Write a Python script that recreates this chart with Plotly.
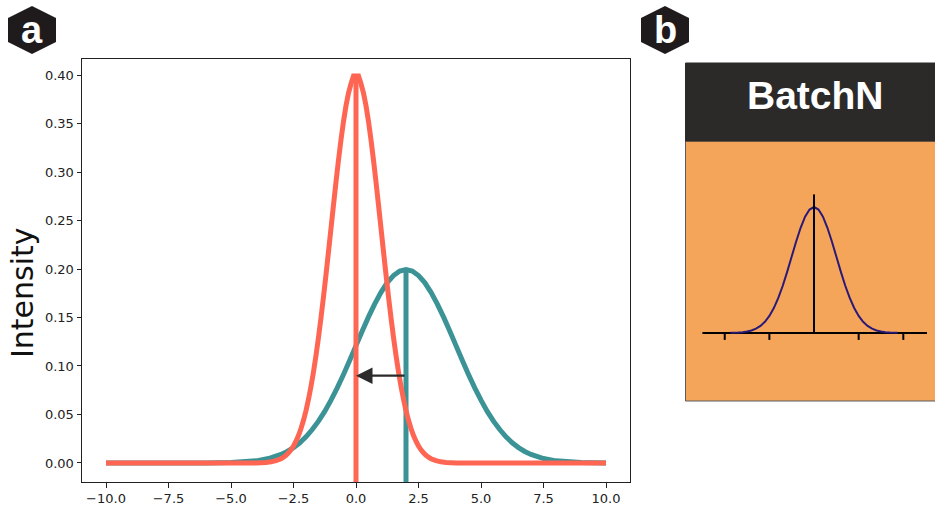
import plotly.graph_objects as go

W, H = 935, 508

# Panel a: values
teal_x = [-10, -6, -5, -4, -3.5, -3, -2.75, -2.5, -2.25, -2, -1.75, -1.5, -1.25, -1, -0.75, -0.5, -0.25, 0, 0.25, 0.5, 0.75, 1, 1.25, 1.5, 1.75, 2, 2.25, 2.5, 2.75, 3, 3.25, 3.5, 3.75, 4, 4.25, 4.5, 4.75, 5, 5.25, 5.5, 5.75, 6, 6.25, 6.5, 6.75, 7, 7.5, 8, 9, 10]
teal_y = [0, 0.0001, 0.0004, 0.0022, 0.0046, 0.0088, 0.0119, 0.0159, 0.0208, 0.027, 0.0345, 0.0431, 0.0532, 0.0648, 0.0774, 0.0913, 0.1059, 0.121, 0.1361, 0.1506, 0.1641, 0.176, 0.186, 0.1933, 0.1979, 0.1995, 0.1979, 0.1933, 0.186, 0.176, 0.1641, 0.1506, 0.1361, 0.121, 0.1059, 0.0913, 0.0774, 0.0648, 0.0532, 0.0431, 0.0345, 0.027, 0.0208, 0.0159, 0.0119, 0.0088, 0.0046, 0.0022, 0.0004, 0]
red_x = [-10, -4, -3.6, -3.4, -3.2, -3, -2.9, -2.8, -2.7, -2.6, -2.5, -2.4, -2.3, -2.2, -2.1, -2, -1.9, -1.8, -1.7, -1.6, -1.5, -1.4, -1.3, -1.2, -1.1, -1, -0.9, -0.8, -0.7, -0.6, -0.5, -0.4, -0.3, -0.2, -0.1, 0.1, 0.2, 0.3, 0.4, 0.5, 0.6, 0.7, 0.8, 0.9, 1, 1.1, 1.2, 1.3, 1.4, 1.5, 1.6, 1.7, 1.8, 1.9, 2, 2.1, 2.2, 2.3, 2.4, 2.5, 2.6, 2.7, 2.8, 2.9, 3, 3.2, 3.4, 3.6, 4, 10]
red_y = [0, 0.0001, 0.0006, 0.0012, 0.0024, 0.0044, 0.006, 0.0079, 0.0104, 0.0136, 0.0175, 0.0224, 0.0283, 0.0355, 0.044, 0.054, 0.0656, 0.079, 0.094, 0.1109, 0.1295, 0.1497, 0.1714, 0.1942, 0.2179, 0.242, 0.2661, 0.2897, 0.3123, 0.3332, 0.3521, 0.3683, 0.3814, 0.391, 0.399, 0.399, 0.391, 0.3814, 0.3683, 0.3521, 0.3332, 0.3123, 0.2897, 0.2661, 0.242, 0.2179, 0.1942, 0.1714, 0.1497, 0.1295, 0.1109, 0.094, 0.079, 0.0656, 0.054, 0.044, 0.0355, 0.0283, 0.0224, 0.0175, 0.0136, 0.0104, 0.0079, 0.006, 0.0044, 0.0024, 0.0012, 0.0006, 0.0001, 0]
x_ticks = [-10, -7.5, -5, -2.5, 0, 2.5, 5, 7.5, 10]
x_labels = ["−10.0", "−7.5", "−5.0", "−2.5", "0.0", "2.5", "5.0", "7.5", "10.0"]
y_ticks = [0, 0.05, 0.1, 0.15, 0.2, 0.25, 0.3, 0.35, 0.4]
y_labels = ["0.00", "0.05", "0.10", "0.15", "0.20", "0.25", "0.30", "0.35", "0.40"]
x_range = [-10.96, 10.96]
y_range = [-0.0196, 0.4165]
teal_mean, teal_peak = 2, 0.2
red_mean, red_peak = 0, 0.4
arrow_y = 0.09

# Panel b: curve in tick units, heights relative to the peak
b_x = [-1.87, -1.7, -1.6, -1.5, -1.4, -1.3, -1.2, -1.1, -1, -0.9, -0.8, -0.7, -0.6, -0.5, -0.4, -0.3, -0.2, -0.1, 0, 0.1, 0.2, 0.3, 0.4, 0.5, 0.6, 0.7, 0.8, 0.9, 1, 1.1, 1.2, 1.3, 1.4, 1.5, 1.6, 1.7, 1.87]
b_y = [0.001, 0.003, 0.006, 0.011, 0.02, 0.034, 0.056, 0.089, 0.135, 0.198, 0.278, 0.375, 0.487, 0.607, 0.726, 0.835, 0.923, 0.98, 1, 0.98, 0.923, 0.835, 0.726, 0.607, 0.487, 0.375, 0.278, 0.198, 0.135, 0.089, 0.056, 0.034, 0.02, 0.011, 0.006, 0.003, 0.001]
b_ticks = [-2, -1, 1, 2]
b_axis_x = [-2.5, 2.53]
b_top = 1.1
b_x_range = [-2.89, 2.71]
b_y_range = [-0.54, 1.524]

TEAL, RED, DARK = "#3B9396", "#FF6553", "#2B2A29"


def px(v):
    return v / W


def py(v):
    return 1 - v / H


def hexagon(cx, cy):
    pts = [(cx, cy - 24), (cx + 24, cy - 12), (cx + 24, cy + 12), (cx, cy + 24), (cx - 24, cy + 12), (cx - 24, cy - 12)]
    d = "M" + "L".join(f"{px(a):.5f},{py(b):.5f}" for a, b in pts) + "Z"
    return dict(type="path", xref="paper", yref="paper", path=d, fillcolor="#1F1B1D", line_width=0, layer="below")


def rect(x0, y0, x1, y1, fill, line):
    return dict(type="rect", xref="paper", yref="paper", x0=px(x0), x1=px(x1), y0=py(y1), y1=py(y0),
                fillcolor=fill, line=dict(color=line, width=1), layer="below")


def curve(color, width):
    return dict(color=color, width=width, simplify=False)


fig = go.Figure()
fig.add_trace(go.Scatter(x=teal_x, y=teal_y, mode="lines", line=curve(TEAL, 5), hoverinfo="skip"))
fig.add_trace(go.Scatter(x=[teal_mean, teal_mean], y=[y_range[0], teal_peak], mode="lines", line=curve(TEAL, 5), hoverinfo="skip"))
fig.add_trace(go.Scatter(x=red_x, y=red_y, mode="lines", line=curve(RED, 5), hoverinfo="skip"))
fig.add_trace(go.Scatter(x=[red_mean, red_mean], y=[y_range[0], red_peak], mode="lines", line=curve(RED, 5), hoverinfo="skip"))

fig.add_trace(go.Scatter(x=b_axis_x, y=[0, 0], xaxis="x2", yaxis="y2", mode="lines", line=curve("black", 2), hoverinfo="skip"))
for t in b_ticks:
    fig.add_trace(go.Scatter(x=[t, t], y=[0, -0.055], xaxis="x2", yaxis="y2", mode="lines", line=curve("black", 2), hoverinfo="skip"))
fig.add_trace(go.Scatter(x=b_x, y=b_y, xaxis="x2", yaxis="y2", mode="lines", line=curve("#2A1A78", 2), hoverinfo="skip"))
fig.add_trace(go.Scatter(x=[0, 0], y=[0, b_top], xaxis="x2", yaxis="y2", mode="lines", line=curve("black", 2), hoverinfo="skip"))

axis_font = dict(family="DejaVu Sans", size=13, color="#222222")
fig.update_layout(
    width=W, height=H, autosize=False, showlegend=False,
    margin=dict(l=0, r=0, t=0, b=0),
    paper_bgcolor="white", plot_bgcolor="white",
    xaxis=dict(domain=[px(82), px(630)], range=x_range, tickvals=x_ticks, ticktext=x_labels,
               ticks="outside", ticklen=4.5, tickwidth=1, tickcolor="#222222", tickfont=axis_font,
               showgrid=False, zeroline=False, showline=True, mirror=True, linecolor="#222222", linewidth=1, anchor="y"),
    yaxis=dict(domain=[py(482), py(59)], range=y_range, tickvals=y_ticks, ticktext=y_labels,
               ticks="outside", ticklen=4.5, tickwidth=1, tickcolor="#222222", tickfont=axis_font,
               showgrid=False, zeroline=False, showline=True, mirror=True, linecolor="#222222", linewidth=1, anchor="x"),
    xaxis2=dict(domain=[px(685), px(935)], range=b_x_range, visible=False, anchor="y2"),
    yaxis2=dict(domain=[py(401), py(141)], range=b_y_range, visible=False, anchor="x2"),
    shapes=[
        rect(685.5, 141, 940, 401, "#F5A55A", "#5a5a5a"),
        rect(685.5, 63, 940, 141, DARK, DARK),
        hexagon(32, 30),
        hexagon(665, 30),
    ],
    annotations=[
        dict(x=red_mean, y=arrow_y, ax=teal_mean, ay=arrow_y, xref="x", yref="y", axref="x", ayref="y", text="",
             showarrow=True, arrowhead=2, arrowsize=1.5, arrowwidth=2.2, arrowcolor="#2B2B2B"),
        dict(x=px(22), y=py(293), xref="paper", yref="paper", text="Intensity", textangle=-90, showarrow=False,
             font=dict(family="DejaVu Sans", size=30, color="#111111"), xanchor="center", yanchor="middle"),
        dict(x=px(815), y=py(95), xref="paper", yref="paper", text="<b>BatchN</b>", showarrow=False,
             font=dict(family="Liberation Sans", size=39, color="white"), xanchor="center", yanchor="middle"),
        dict(x=px(32), y=py(30), xref="paper", yref="paper", text="<b>a</b>", showarrow=False,
             font=dict(family="Liberation Sans", size=38, color="white"), xanchor="center", yanchor="middle"),
        dict(x=px(665), y=py(30), xref="paper", yref="paper", text="<b>b</b>", showarrow=False,
             font=dict(family="Liberation Sans", size=38, color="white"), xanchor="center", yanchor="middle"),
    ],
)

fig.write_html("out.html", config=dict(displayModeBar=False),
               post_script="document.body.style.margin='0';document.body.style.overflow='hidden';")
